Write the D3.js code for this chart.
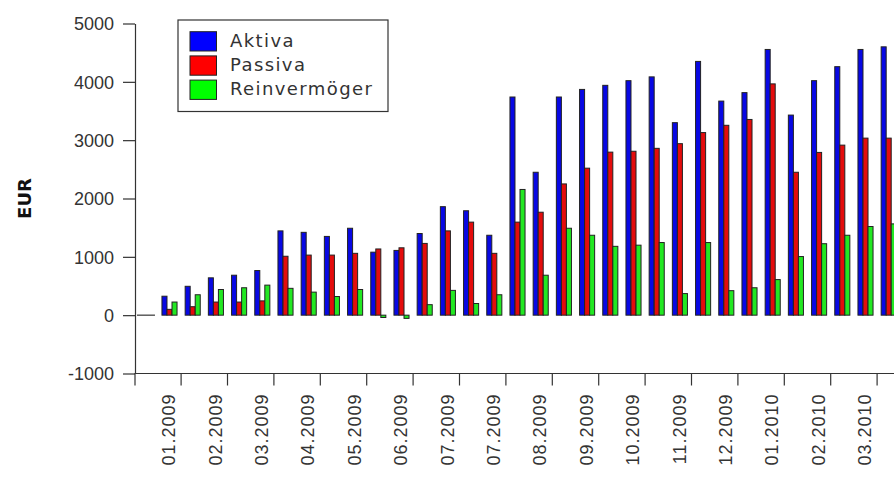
<!DOCTYPE html>
<html>
<head>
<meta charset="utf-8">
<script src="https://cdn.jsdelivr.net/npm/d3@7"></script>
<style>
    body { margin: 0; background: #fff; }
    svg { display: block; font-family: "DejaVu Sans", sans-serif; }
    .axis path, .axis line { stroke: #333; stroke-width: 1.2; }
    .axis text { fill: #333; font-size: 18px; }
</style>
</head>
<body>
<div id="chart"></div>
<script>
// data
var tickLabels = ["01.2009", "02.2009", "03.2009", "04.2009", "05.2009", "06.2009",
    "07.2009", "07.2009", "08.2009", "09.2009", "10.2009", "11.2009", "12.2009",
    "01.2010", "02.2010", "03.2010"];
var aktiva = [325, 495, 640, 685, 765, 1445, 1420, 1350, 1490, 1080, 1110, 1400,
    1860, 1790, 1370, 3740, 2450, 3740, 3870, 3940, 4020, 4085, 3300, 4350, 3670,
    3815, 4555, 3430, 4020, 4260, 4555, 4600];
var passiva = [100, 145, 225, 225, 245, 1010, 1030, 1030, 1060, 1135, 1155, 1230,
    1445, 1595, 1060, 1595, 1765, 2250, 2520, 2795, 2810, 2860, 2940, 3130, 3255,
    3355, 3965, 2450, 2790, 2915, 3035, 3035];
var reinvermoegen = [225, 350, 440, 470, 515, 460, 395, 320, 440, -40, -55, 180,
    425, 200, 350, 2155, 685, 1490, 1370, 1180, 1200, 1245, 370, 1245, 420, 470,
    610, 1005, 1225, 1370, 1520, 1565];
var seriesNames = ["Aktiva", "Passiva", "Reinvermöger"];
var seriesColours = ["#0808e4", "#e40c0c", "#22e822"];
var legendColours = ["#0000ff", "#ff0000", "#00ff00"];
var yTicks = [-1000, 0, 1000, 2000, 3000, 4000, 5000];

var width = 894, height = 479;
var axisX = 135, plotTop = 23.5, plotBottom = 373.5;
var bandStart = 157.9, step = 23.2;

svg = d3.select("#chart").append("svg")
    .attr("width", width)
    .attr("height", height);

// scales
y_scale = d3.scaleLinear()
    .domain([-1000, 5000])
    .range([plotBottom, plotTop]);
groups = d3.range(aktiva.length);
x_scale = d3.scaleBand()
    .domain(groups)
    .range([bandStart, bandStart + step * groups.length])
    .paddingInner(0.35)
    .paddingOuter(0.175);
x_inner = d3.scaleBand()
    .domain(d3.range(3))
    .range([0, x_scale.bandwidth()]);
label_scale = d3.scaleBand()
    .domain(d3.range(tickLabels.length))
    .range([bandStart, bandStart + step * groups.length]);

// zero stub left of the first group
svg.append("line")
    .attr("x1", axisX + 2)
    .attr("x2", x_scale(0) - 7)
    .attr("y1", y_scale(0))
    .attr("y2", y_scale(0))
    .attr("stroke", "#333")
    .attr("stroke-width", 1.2);

// bars
var series = [aktiva, passiva, reinvermoegen];
series.forEach(function (values, s) {
    svg.append("g").selectAll("rect")
        .data(values).enter()
        .append("rect")
        .attr("x", (d, i) => x_scale(i) + x_inner(s))
        .attr("width", x_inner.bandwidth())
        .attr("y", (d) => y_scale(Math.max(0, d)))
        .attr("height", (d) => Math.abs(y_scale(d) - y_scale(0)))
        .attr("fill", seriesColours[s])
        .attr("stroke", "#222")
        .attr("stroke-width", 1);
});

// y axis
y_axis = d3.axisLeft(y_scale)
    .tickValues(yTicks)
    .tickSize(12)
    .tickSizeOuter(0)
    .tickPadding(9)
    .tickFormat((d) => String(d));
svg.append("g")
    .attr("class", "axis")
    .attr("transform", "translate(" + axisX + ",0)")
    .call(y_axis)
    .selectAll("text")
    .attr("dy", "0.36em");

// x axis
x_axis = d3.axisBottom(label_scale)
    .tickSize(12)
    .tickSizeOuter(0)
    .tickFormat((i) => tickLabels[i]);
xg = svg.append("g")
    .attr("class", "axis")
    .attr("transform", "translate(0," + plotBottom + ")")
    .call(x_axis);
xg.select(".domain").remove();
xg.append("path")
    .attr("d", "M" + axisX + ",12V0H" + width)
    .attr("fill", "none");
xg.selectAll(".tick text")
    .attr("transform", "rotate(-90)")
    .style("text-anchor", "end")
    .style("letter-spacing", "1px")
    .attr("x", -20)
    .attr("y", -6)
    .attr("dy", 0);

// y title
svg.append("text")
    .attr("transform", "translate(30.5," + (plotTop + plotBottom) / 2 + ") rotate(-90)")
    .attr("text-anchor", "middle")
    .style("font-size", "18px")
    .style("font-weight", "bold")
    .attr("fill", "#111")
    .text("EUR");

// legend
legend = svg.append("g").attr("transform", "translate(178,20)");
legend.append("rect")
    .attr("width", 210)
    .attr("height", 91.5)
    .attr("fill", "#fff")
    .attr("stroke", "#333")
    .attr("stroke-width", 1.2);
seriesNames.forEach(function (name, i) {
    legend.append("rect")
        .attr("x", 12)
        .attr("y", 11.7 + i * 24.2)
        .attr("width", 26.5)
        .attr("height", 19.3)
        .attr("fill", legendColours[i])
        .attr("stroke", "#222")
        .attr("stroke-width", 1);
    legend.append("text")
        .attr("x", 52)
        .attr("y", 27 + i * 24.2)
        .style("font-size", "18px")
        .style("letter-spacing", "1.4px")
        .attr("fill", "#333")
        .text(name);
});
</script>
</body>
</html>
